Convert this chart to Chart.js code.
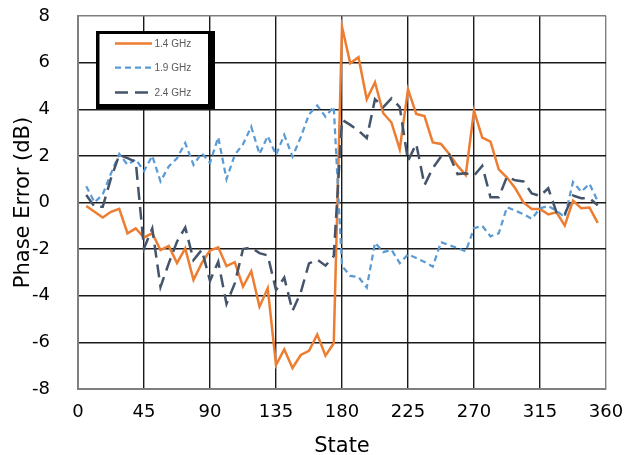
<!DOCTYPE html>
<html>
<head>
<meta charset="utf-8">
<script src="https://cdn.jsdelivr.net/npm/chart.js@4"></script>
<style>
  html, body { margin: 0; padding: 0; background: #fff; }
  #wrap { width: 627px; height: 455px; position: relative; }
</style>
</head>
<body>
<div id="wrap"><canvas id="c" width="627" height="455"></canvas></div>
<script>
// ---- data ----
const states = [5.625, 11.25, 16.875, 22.5, 28.125, 33.75, 39.375, 45, 50.625, 56.25,
  61.875, 67.5, 73.125, 78.75, 84.375, 90, 95.625, 101.25, 106.875, 112.5,
  118.125, 123.75, 129.375, 135, 140.625, 146.25, 151.875, 157.5, 163.125, 168.75,
  174.375, 180, 185.625, 191.25, 196.875, 202.5, 208.125, 213.75, 219.375, 225,
  230.625, 236.25, 241.875, 247.5, 253.125, 258.75, 264.375, 270, 275.625, 281.25,
  286.875, 292.5, 298.125, 303.75, 309.375, 315, 320.625, 326.25, 331.875, 337.5,
  343.125, 348.75, 354.375];

const err14 = [-0.15, -0.4, -0.64, -0.4, -0.27, -1.32, -1.11, -1.5, -1.32, -2.04,
  -1.86, -2.6, -1.97, -3.32, -2.6, -2.06, -1.92, -2.73, -2.56, -3.61,
  -2.95, -4.47, -3.68, -6.97, -6.3, -7.1, -6.54, -6.36, -5.66, -6.57,
  -6.04, 7.54, 5.97, 6.23, 4.43, 5.16, 3.83, 3.43, 2.28, 4.86,
  3.8, 3.71, 2.58, 2.51, 2.08, 1.58, 1.18, 3.94, 2.78, 2.61,
  1.42, 1.07, 0.61, 0.0, -0.28, -0.28, -0.51, -0.42, -0.99, 0.08,
  -0.25, -0.22, -0.87];

const err19 = [0.7, 0.0, 0.35, 1.25, 2.08, 1.62, 1.85, 1.35, 2.0, 0.9,
  1.55, 1.9, 2.55, 1.61, 2.12, 1.7, 2.8, 1.0, 2.04, 2.5,
  3.25, 2.08, 2.85, 2.04, 2.9, 1.97, 2.8, 3.78, 4.16, 3.68,
  4.11, -2.72, -3.15, -3.2, -3.65, -1.73, -2.13, -2.03, -2.6, -2.23,
  -2.38, -2.55, -2.75, -1.7, -1.83, -1.95, -2.1, -1.1, -1.0, -1.45,
  -1.32, -0.2, -0.35, -0.5, -0.7, -0.25, -0.15, -0.35, -0.63, 0.88,
  0.46, 0.8, 0.05];

const err24 = [0.32, -0.18, -0.18, 1.04, 2.04, 1.9, 1.75, -1.97, -1.11, -3.62,
  -2.61, -1.68, -1.07, -2.47, -2.03, -3.36, -2.54, -4.35, -3.47, -2.0,
  -1.93, -2.17, -2.27, -3.76, -3.22, -4.65, -3.86, -2.61, -2.45, -2.71,
  -2.3, 3.55, 3.33, 3.08, 2.76, 4.43, 4.09, 4.47, 4.09, 1.79,
  2.51, 0.75, 1.47, 1.97, 2.05, 1.22, 1.25, 1.15, 1.57, 0.22,
  0.22, 1.11, 0.95, 0.9, 0.39, 0.28, 0.61, -0.42, -0.5, 0.3,
  0.18, 0.18, -0.12];

const seriesNames = ['1.4 GHz', '1.9 GHz', '2.4 GHz'];
const xTicks = [0, 45, 90, 135, 180, 225, 270, 315, 360];
const yTicks = [-8, -6, -4, -2, 0, 2, 4, 6, 8];

// ---- styles ----
const colors = ['#ED7D31', '#5B9BD5', '#44546A'];
const dashes = [[], [6, 4], [13, 7]];
const widths = [2.5, 2.25, 2.5];

function pts(vals) { return states.map((s, i) => ({x: s, y: vals[i]})); }
const allVals = [err14, err19, err24];

const FONT = '"DejaVu Sans", sans-serif';
const LFONT = '"Liberation Sans", Arial, sans-serif';

const legendBox = {
  id: 'legendBox',
  afterDraw(chart) {
    const ctx = chart.ctx;
    ctx.save();
    ctx.fillStyle = '#000';
    ctx.fillRect(96, 31, 119, 78);
    ctx.fillStyle = '#fff';
    ctx.fillRect(99.5, 34, 108.5, 70);
    const rows = [43.5, 67.5, 92.5];
    for (let i = 0; i < 3; i++) {
      ctx.strokeStyle = colors[i];
      ctx.lineWidth = widths[i];
      ctx.setLineDash(dashes[i]);
      ctx.beginPath();
      ctx.moveTo(115, rows[i]);
      ctx.lineTo(152, rows[i]);
      ctx.stroke();
      ctx.setLineDash([]);
      ctx.fillStyle = '#595959';
      ctx.font = '10px ' + LFONT;
      ctx.textBaseline = 'middle';
      ctx.textAlign = 'left';
      ctx.fillText(seriesNames[i], 154.5, rows[i] + 0.5);
    }
    ctx.restore();
  }
};

const gridColor = (edgeVals) => (c) => (c.tick && edgeVals.includes(c.tick.value)) ? '#7f7f7f' : '#1a1a1a';

new Chart(document.getElementById('c'), {
  type: 'line',
  data: {
    datasets: seriesNames.map((n, i) => ({
      label: n,
      data: pts(allVals[i]),
      borderColor: colors[i],
      backgroundColor: colors[i],
      borderWidth: widths[i],
      borderDash: dashes[i],
      pointRadius: 0,
      tension: 0,
      fill: false,
      order: 3 - i
    }))
  },
  options: {
    responsive: false,
    animation: false,
    layout: { padding: { top: 16, right: 21, left: 0, bottom: 0 } },
    plugins: { legend: { display: false }, tooltip: { enabled: false } },
    scales: {
      x: {
        type: 'linear',
        min: 0, max: 360,
        afterBuildTicks: (s) => { s.ticks = xTicks.map(v => ({value: v})); },
        afterFit: (s) => { s.height = 66; },
        ticks: { font: { family: FONT, size: 18 }, color: '#000', padding: 2, maxRotation: 0 },
        grid: { drawTicks: true, tickLength: 11, tickColor: 'rgba(0,0,0,0)', color: gridColor([360]), lineWidth: 1.4 },
        border: { color: '#7f7f7f', width: 2 },
        title: { display: true, text: 'State', font: { family: FONT, size: 21, lineHeight: 0.8 }, color: '#000', padding: { top: 0, bottom: 0 } }
      },
      y: {
        min: -8, max: 8,
        afterBuildTicks: (s) => { s.ticks = yTicks.map(v => ({value: v})); },
        afterFit: (s) => { s.width = 78; },
        ticks: { font: { family: FONT, size: 18 }, color: '#000', padding: 4 },
        grid: { drawTicks: true, tickLength: 24, tickColor: 'rgba(0,0,0,0)', color: gridColor([8]), lineWidth: 1.4 },
        border: { color: '#7f7f7f', width: 2 },
        title: { display: true, text: 'Phase Error (dB)', font: { family: FONT, size: 21, lineHeight: 1.2 }, color: '#000', padding: { top: 11, bottom: 0 } }
      }
    }
  },
  plugins: [legendBox]
});
</script>
</body>
</html>
